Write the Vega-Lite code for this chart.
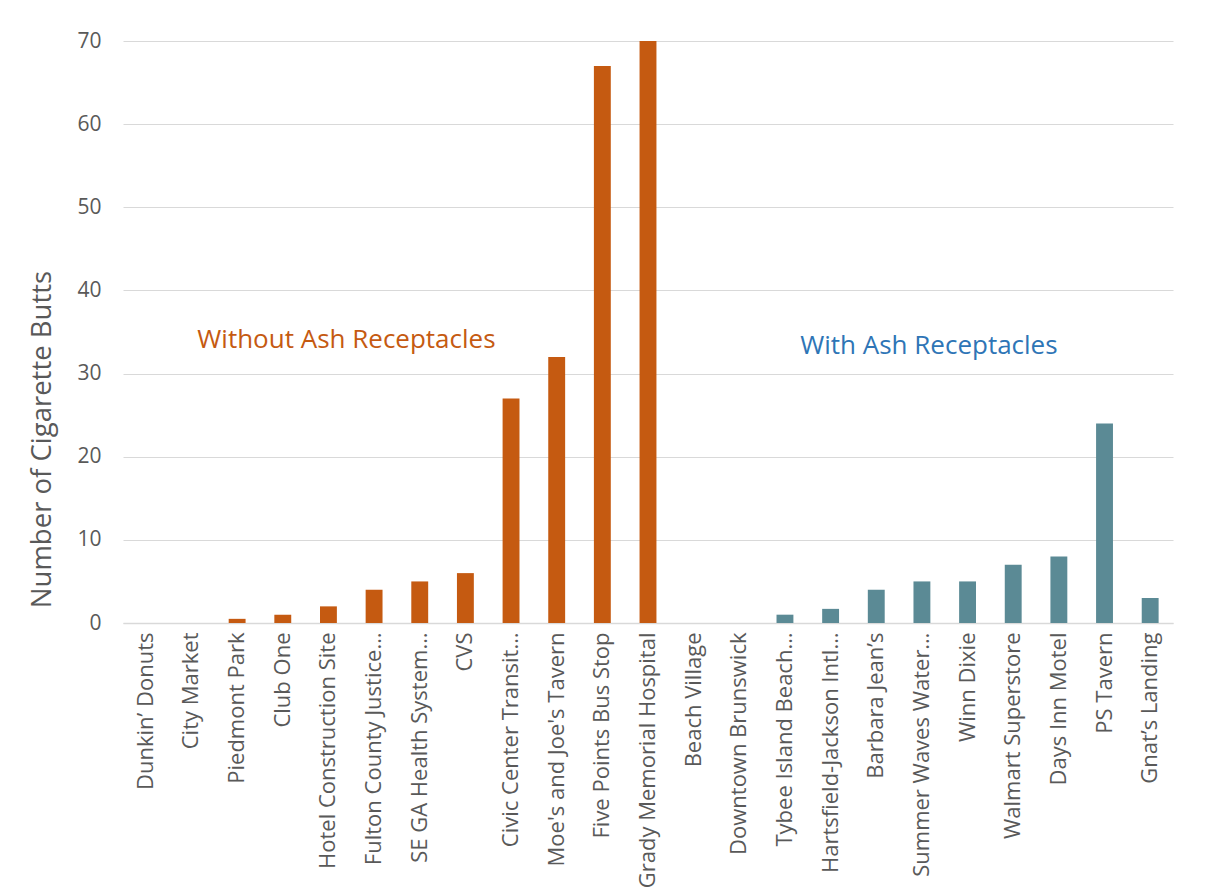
{
  "$schema": "https://vega.github.io/schema/vega-lite/v6.json",
  "width": 1050,
  "height": 582,
  "autosize": {"type": "none"},
  "padding": {"left": 123, "top": 41, "right": 41, "bottom": 269},
  "background": "white",
  "config": {
    "font": "Open Sans",
    "view": {"stroke": null}
  },
  "datasets": {
    "bars": [
      {"site": "Dunkin’ Donuts", "butts": 0, "group": "Without"},
      {"site": "City Market", "butts": 0, "group": "Without"},
      {"site": "Piedmont Park", "butts": 0.5, "group": "Without"},
      {"site": "Club One", "butts": 1, "group": "Without"},
      {"site": "Hotel Construction Site", "butts": 2, "group": "Without"},
      {"site": "Fulton County Justice…", "butts": 4, "group": "Without"},
      {"site": "SE GA Health System…", "butts": 5, "group": "Without"},
      {"site": "CVS", "butts": 6, "group": "Without"},
      {"site": "Civic Center Transit…", "butts": 27, "group": "Without"},
      {"site": "Moe's and Joe's Tavern", "butts": 32, "group": "Without"},
      {"site": "Five Points Bus Stop", "butts": 67, "group": "Without"},
      {"site": "Grady Memorial Hospital", "butts": 70, "group": "Without"},
      {"site": "Beach Village", "butts": 0, "group": "With"},
      {"site": "Downtown Brunswick", "butts": 0, "group": "With"},
      {"site": "Tybee Island Beach…", "butts": 1, "group": "With"},
      {"site": "Hartsfield-Jackson Intl…", "butts": 1.7, "group": "With"},
      {"site": "Barbara Jean’s", "butts": 4, "group": "With"},
      {"site": "Summer Waves Water…", "butts": 5, "group": "With"},
      {"site": "Winn Dixie", "butts": 5, "group": "With"},
      {"site": "Walmart Superstore", "butts": 7, "group": "With"},
      {"site": "Days Inn Motel", "butts": 8, "group": "With"},
      {"site": "PS Tavern", "butts": 24, "group": "With"},
      {"site": "Gnat’s Landing", "butts": 3, "group": "With"}
    ],
    "notesWithout": [
      {"site": "Hotel Construction Site", "butts": 34, "label": "Without Ash Receptacles"}
    ],
    "notesWith": [
      {"site": "Summer Waves Water…", "butts": 33.3, "label": "With Ash Receptacles"}
    ]
  },
  "layer": [
    {
      "data": {"name": "bars"},
      "mark": {"type": "bar"},
      "encoding": {
        "x": {
          "field": "site",
          "type": "nominal",
          "sort": null,
          "scale": {"paddingInner": 0.63, "paddingOuter": 0.315},
          "axis": {
            "title": null,
            "labelAngle": -90,
            "labelFontSize": 22,
            "labelColor": "#595959",
            "labelPadding": 9,
            "labelLimit": 400,
            "ticks": false,
            "domainColor": "#d9d9d9",
            "domainWidth": 1.5
          }
        },
        "y": {
          "field": "butts",
          "type": "quantitative",
          "scale": {"domain": [0, 70], "nice": false},
          "axis": {
            "title": "Number of Cigarette Butts",
            "titleFontSize": 27.5,
            "titleFontWeight": "normal",
            "titleColor": "#595959",
            "titlePadding": 20,
            "titleY": 398,
            "values": [0, 10, 20, 30, 40, 50, 60, 70],
            "labelFontSize": 21,
            "labelColor": "#595959",
            "labelPadding": 22,
            "ticks": false,
            "domain": false,
            "gridColor": "#d9d9d9",
            "gridWidth": 1.2
          }
        },
        "color": {
          "field": "group",
          "type": "nominal",
          "scale": {"domain": ["Without", "With"], "range": ["#C55A11", "#5B8A95"]},
          "legend": null
        }
      }
    },
    {
      "data": {"name": "notesWithout"},
      "mark": {"type": "text", "fontSize": 26, "baseline": "middle", "align": "center", "dx": 18, "color": "#C55A11"},
      "encoding": {
        "x": {"field": "site", "type": "nominal", "sort": null},
        "y": {"field": "butts", "type": "quantitative"},
        "text": {"field": "label"}
      }
    },
    {
      "data": {"name": "notesWith"},
      "mark": {"type": "text", "fontSize": 26, "baseline": "middle", "align": "center", "dx": 7, "color": "#2E75B6"},
      "encoding": {
        "x": {"field": "site", "type": "nominal", "sort": null},
        "y": {"field": "butts", "type": "quantitative"},
        "text": {"field": "label"}
      }
    }
  ]
}
